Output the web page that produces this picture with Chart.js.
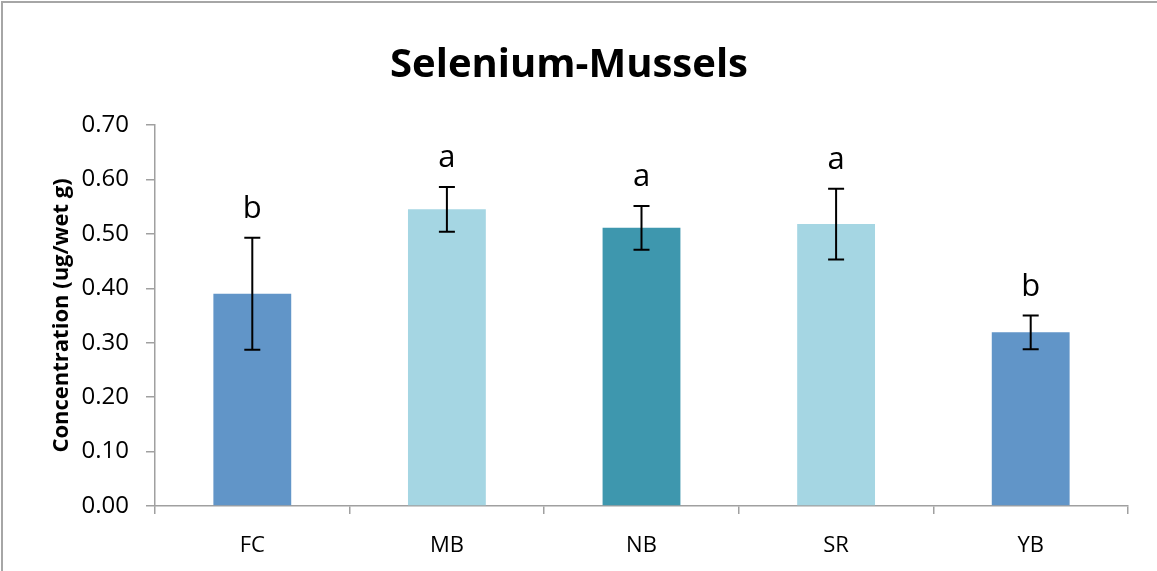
<!DOCTYPE html>
<html>
<head>
<meta charset="utf-8">
<script src="https://cdn.jsdelivr.net/npm/chart.js@4.4.0/dist/chart.umd.min.js"></script>
<style>
  html, body { margin: 0; padding: 0; background: #fff; }
  #wrap { position: relative; width: 1157px; height: 571px; }
</style>
</head>
<body>
<div id="wrap"><canvas id="c" width="1157" height="571"></canvas></div>
<script>
const categories = ['FC', 'MB', 'NB', 'SR', 'YB'];
const means = [0.39, 0.545, 0.511, 0.518, 0.319];
const errors = [0.103, 0.041, 0.040, 0.065, 0.031];
const letters = ['b', 'a', 'a', 'a', 'b'];
const barColors = ['#6195C8', '#A5D6E3', '#3E97AE', '#A5D6E3', '#6195C8'];
const yTicks = [0, 0.1, 0.2, 0.3, 0.4, 0.5, 0.6, 0.7];

const FONT = "'Open Sans', 'Liberation Sans', sans-serif";

const frame = {
  id: 'frame',
  beforeDraw(chart) {
    const ctx = chart.ctx;
    ctx.save();
    ctx.fillStyle = '#fff';
    ctx.fillRect(0, 0, chart.width, chart.height);
    ctx.strokeStyle = '#A6A6A6';
    ctx.lineWidth = 2;
    ctx.beginPath();
    ctx.moveTo(2, chart.height + 5);
    ctx.lineTo(2, 2);
    ctx.lineTo(chart.width + 5, 2);
    ctx.stroke();
    ctx.restore();
  }
};

const errorBars = {
  id: 'errorBars',
  afterDatasetsDraw(chart) {
    const ctx = chart.ctx;
    const meta = chart.getDatasetMeta(0);
    const y = chart.scales.y;
    ctx.save();
    ctx.strokeStyle = '#000';
    ctx.lineWidth = 2;
    ctx.fillStyle = '#000';
    ctx.font = '31px ' + FONT;
    ctx.textAlign = 'center';
    ctx.textBaseline = 'alphabetic';
    meta.data.forEach((bar, i) => {
      const x = bar.x;
      const yt = y.getPixelForValue(means[i] + errors[i]);
      const yb = y.getPixelForValue(means[i] - errors[i]);
      ctx.beginPath();
      ctx.moveTo(x, yt); ctx.lineTo(x, yb);
      ctx.moveTo(x - 8, yt); ctx.lineTo(x + 8, yt);
      ctx.moveTo(x - 8, yb); ctx.lineTo(x + 8, yb);
      ctx.stroke();
      ctx.fillText(letters[i], x, yt - 20);
    });
    ctx.restore();
  }
};

new Chart(document.getElementById('c'), {
  type: 'bar',
  data: {
    labels: categories,
    datasets: [{
      data: means,
      backgroundColor: barColors,
      borderWidth: 0,
      categoryPercentage: 1.0,
      barPercentage: 0.4
    }]
  },
  options: {
    responsive: false,
    animation: false,
    devicePixelRatio: 1,
    layout: { padding: { left: 10, right: 29, top: 0, bottom: 0 } },
    plugins: {
      legend: { display: false },
      tooltip: { enabled: false },
      title: {
        display: true,
        text: 'Selenium-Mussels',
        color: '#000',
        font: { family: FONT, size: 40, weight: 'bold' },
        padding: { top: 42, bottom: 35 }
      }
    },
    scales: {
      x: {
        type: 'category',
        offset: true,
        afterFit(scale) { scale.height = 65; },
        grid: { display: true, offset: true, drawOnChartArea: false, drawTicks: true, tickLength: 8, color: '#A0A0A0', lineWidth: 1.5 },
        border: { display: true, color: '#A0A0A0', width: 1.5 },
        ticks: { color: '#000', font: { family: FONT, size: 22 }, padding: 19 }
      },
      y: {
        min: 0,
        max: 0.7,
        afterBuildTicks(scale) { scale.ticks = yTicks.map(v => ({ value: v })); },
        afterFit(scale) { scale.width = 145; },
        grid: { display: true, drawOnChartArea: false, drawTicks: true, tickLength: 9, color: '#A0A0A0', lineWidth: 1.5 },
        border: { display: true, color: '#A0A0A0', width: 1.5 },
        ticks: {
          color: '#000',
          font: { family: FONT, size: 24 },
          padding: 17,
          callback: v => Number(v).toFixed(2)
        },
        title: {
          display: true,
          text: 'Concentration (ug/wet g)',
          color: '#000',
          font: { family: FONT, size: 22, weight: 'bold' },
          padding: { top: 39, bottom: 0 }
        }
      }
    }
  },
  plugins: [frame, errorBars]
});
</script>
</body>
</html>
